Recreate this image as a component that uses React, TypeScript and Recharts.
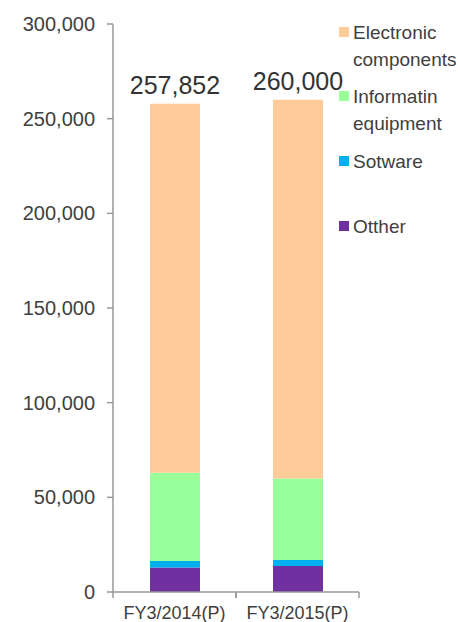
import { BarChart, Bar, XAxis, YAxis, LabelList } from 'recharts';

const years = ['FY3/2014(P)', 'FY3/2015(P)'];
const totals = [257852, 260000];
const other = [13000, 13700];
const software = [3400, 3200];
const infoEquipment = [46600, 43100];
const electronic = [194852, 200000];
const yTicks = [0, 50000, 100000, 150000, 200000, 250000, 300000];

const series = [
  { key: 'other', name: 'Otther', values: other, color: '#7030A0' },
  { key: 'software', name: 'Sotware', values: software, color: '#00B0F0' },
  { key: 'info', name: 'Informatin\nequipment', values: infoEquipment, color: '#99FF99' },
  { key: 'electronic', name: 'Electronic\ncomponents', values: electronic, color: '#FFCC99' },
];

const chartData = years.map((year, i) => {
  const row: Record<string, string | number> = { year, total: totals[i] };
  series.forEach((s) => {
    row[s.key] = s.values[i];
  });
  return row;
});

const font = "'Liberation Sans', Arial, sans-serif";
const textColor = '#404040';
const axisColor = '#999';

// legend item tops, top-to-bottom order
const legendTops = [19, 83, 148, 213];

function CategoryTick(props: any) {
  const { x, y, payload } = props;
  const axisY = y - 8;
  const half = 61.5;
  return (
    <g>
      <line x1={x - half} y1={axisY} x2={x - half} y2={axisY + 6} stroke={axisColor} strokeWidth={1.5} />
      <line x1={x + half} y1={axisY} x2={x + half} y2={axisY + 6} stroke={axisColor} strokeWidth={1.5} />
      <text x={x} y={axisY + 27} textAnchor="middle" fill={textColor} fontSize={18} fontFamily={font}>
        {payload.value}
      </text>
    </g>
  );
}

function TotalLabel(props: any) {
  const { x, y, width, index } = props;
  return (
    <text
      x={x + width / 2}
      y={y - 10}
      textAnchor="middle"
      fill="#333"
      fontSize={25}
      fontFamily={font}
    >
      {totals[index].toLocaleString('en-US')}
    </text>
  );
}

export default function App() {
  const legendItems = [...series].reverse();
  return (
    <div style={{ position: 'absolute', left: 0, top: 0, width: 458, height: 622, background: '#fff' }}>
      <BarChart
        width={458}
        height={622}
        data={chartData}
        margin={{ top: 24, right: 99, left: 0, bottom: 0 }}
      >
        <XAxis
          dataKey="year"
          height={30}
          tickLine={false}
          tickSize={6}
          tickMargin={2}
          axisLine={{ stroke: axisColor, strokeWidth: 1.5 }}
          tick={<CategoryTick />}
          interval={0}
        />
        <YAxis
          width={113}
          domain={[0, 300000]}
          ticks={yTicks}
          tickSize={6}
          tickMargin={12}
          axisLine={{ stroke: axisColor, strokeWidth: 1.5 }}
          tickLine={{ stroke: axisColor, strokeWidth: 1.5 }}
          tick={{ fill: textColor, fontSize: 20, fontFamily: font }}
          tickFormatter={(v: number) => v.toLocaleString('en-US')}
        />
        {series.map((s, i) => (
          <Bar
            key={s.key}
            dataKey={s.key}
            stackId="a"
            fill={s.color}
            barSize={50}
            isAnimationActive={false}
          >
            {i === series.length - 1 && <LabelList dataKey="total" content={<TotalLabel />} />}
          </Bar>
        ))}
      </BarChart>
      {legendItems.map((s, i) => (
        <div
          key={s.key}
          style={{
            position: 'absolute',
            left: 339,
            top: legendTops[i],
            display: 'flex',
            alignItems: 'flex-start',
            fontFamily: font,
            fontSize: 19,
            lineHeight: '27px',
            color: textColor,
          }}
        >
          <div style={{ width: 10, height: 10, background: s.color, marginTop: 8, marginRight: 4 }} />
          <div style={{ whiteSpace: 'pre' }}>{s.name}</div>
        </div>
      ))}
    </div>
  );
}
